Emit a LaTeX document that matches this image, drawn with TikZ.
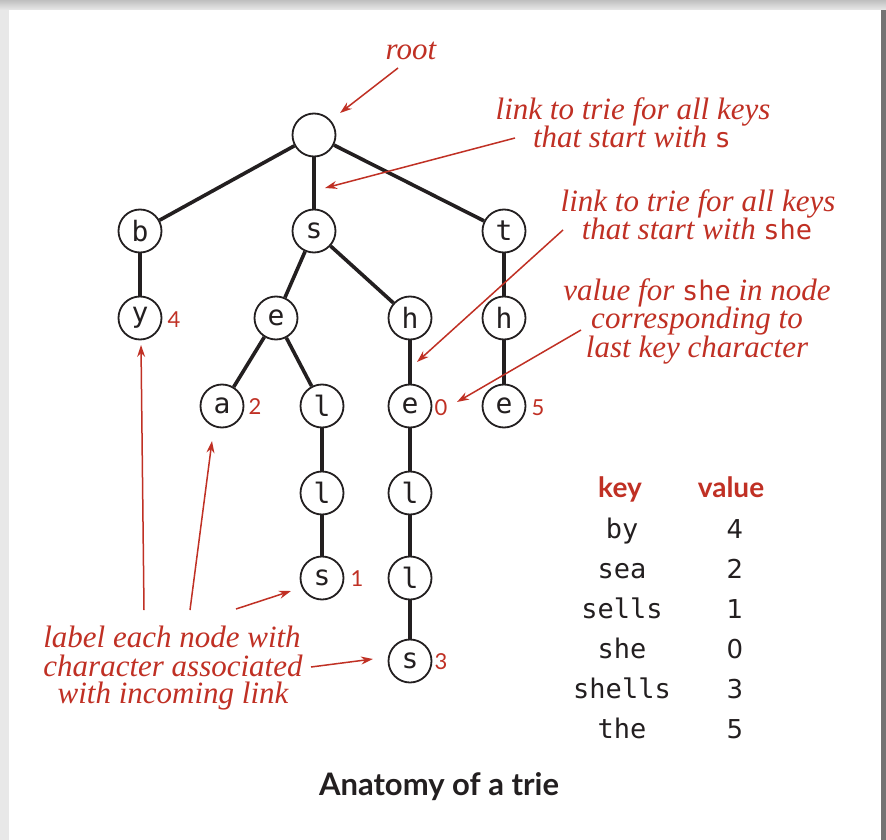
\documentclass[tikz,border=0pt]{standalone}
\usepackage{fontspec}
\setmainfont{Liberation Serif}
\newfontfamily\monof{DejaVu Sans Mono}
\newfontfamily\digitf{DejaVu Sans}
\newfontfamily\sansf{Lato}
\usetikzlibrary{arrows.meta}
\definecolor{annot}{RGB}{192,48,36}
\definecolor{ink}{RGB}{35,31,32}
\begin{document}
\begin{tikzpicture}[x=1pt,y=-1pt,
  trienode/.style={circle,draw=ink,line width=1.8pt,minimum size=43pt,inner sep=0pt,
    font=\monof\fontsize{28}{28}\selectfont,text=ink,fill=white},
  link/.style={draw=ink,line width=3.6pt},
  val/.style={text=annot,font=\sansf\fontsize{22}{22}\selectfont,inner sep=0pt},
  note/.style={text=annot,font=\itshape\fontsize{31}{28}\selectfont,inner sep=0pt,anchor=base},
  pointer/.style={draw=annot,line width=1.5pt,-{Stealth[length=12pt,width=8pt]}},
  keytxt/.style={font=\monof\fontsize{27}{27}\selectfont,text=ink,anchor=base,inner sep=0pt},
  valtxt/.style={font=\digitf\fontsize{26}{26}\selectfont,text=ink,anchor=base,inner sep=0pt},
  head/.style={font=\sansf\bfseries\fontsize{28}{28}\selectfont,text=annot,anchor=base,inner sep=0pt}
]
% page frame with its shadow
\fill[black!9] (0,0) rectangle (886,840);
\shade[top color=black!25,bottom color=black!9] (0,0) rectangle (886,10);
\fill[white] (9,10) rectangle (881,840);
\fill[black!55] (881,10) rectangle (886,840);
\useasboundingbox (0,0) rectangle (886,840);

% trie nodes
\node[trienode] (root) at (314,135) {};
\node[trienode] (b) at (140,231) {b};
\node[trienode] (s) at (314,231) {s};
\node[trienode] (t) at (504,231) {t};
\node[trienode] (by) at (140,318) {y};
\node[trienode] (se) at (276,318) {e};
\node[trienode] (sh) at (410,318) {h};
\node[trienode] (th) at (504,318) {h};
\node[trienode] (sea) at (222,406) {a};
\node[trienode] (sel) at (322,406) {l};
\node[trienode] (she) at (410,406) {e};
\node[trienode] (the) at (504,406) {e};
\node[trienode] (sell) at (322,493) {l};
\node[trienode] (shel) at (410,493) {l};
\node[trienode] (sells) at (322,578) {s};
\node[trienode] (shell) at (410,578) {l};
\node[trienode] (shells) at (410,661) {s};

% links
\draw[link] (root) -- (b);
\draw[link] (root) -- (s);
\draw[link] (root) -- (t);
\draw[link] (b) -- (by);
\draw[link] (s) -- (se);
\draw[link] (s) -- (sh);
\draw[link] (t) -- (th);
\draw[link] (se) -- (sea);
\draw[link] (se) -- (sel);
\draw[link] (sh) -- (she);
\draw[link] (th) -- (the);
\draw[link] (sel) -- (sell);
\draw[link] (she) -- (shel);
\draw[link] (sell) -- (sells);
\draw[link] (shel) -- (shell);
\draw[link] (shell) -- (shells);

% values stored in nodes
\node[val] (v4) at (174,320) {4};
\node[val] (v2) at (255,407) {2};
\node[val] (v1) at (357,579) {1};
\node[val] (v0) at (441,408) {0};
\node[val] (v5) at (538,408) {5};
\node[val] (v3) at (441,662) {3};

% annotations
\node[note] (rootnote) at (411,60) {root};
\node[note] (linkA1) at (633,120) {link to trie for all keys};
\node[note] (linkA2) at (632,148) {that start with {\monof\upshape\fontsize{27}{28}\selectfont s}};
\node[note] (linkB1) at (698,211) {link to trie for all keys};
\node[note] (linkB2) at (697,239) {that start with {\monof\upshape\fontsize{27}{28}\selectfont she}};
\node[note] (valnote1) at (697,300) {value for {\monof\upshape\fontsize{27}{28}\selectfont she} in node};
\node[note] (valnote2) at (697,328) {corresponding to};
\node[note] (valnote3) at (697,357) {last key character};
\node[note] (lab1) at (172,647) {label each node with};
\node[note] (lab2) at (173,676) {character associated};
\node[note] (lab3) at (173,703) {with incoming link};

% pointer ends
\coordinate (pRootA) at (398,68);  \coordinate (pRootB) at (340,113);
\coordinate (pSA) at (515,138);    \coordinate (pSB) at (325,188);
\coordinate (pSheA) at (563,230);  \coordinate (pSheB) at (417,362);
\coordinate (pValA) at (581,330);  \coordinate (pValB) at (457,402);
\coordinate (pL1A) at (144,610);   \coordinate (pL1B) at (141,345);
\coordinate (pL2A) at (190,610);   \coordinate (pL2B) at (212,441);
\coordinate (pL3A) at (236,609);   \coordinate (pL3B) at (291,591);
\coordinate (pL4A) at (311,667);   \coordinate (pL4B) at (373,659);
\draw[pointer] (pRootA) -- (pRootB);
\draw[pointer] (pSA) -- (pSB);
\draw[pointer] (pSheA) -- (pSheB);
\draw[pointer] (pValA) -- (pValB);
\draw[pointer] (pL1A) -- (pL1B);
\draw[pointer] (pL2A) -- (pL2B);
\draw[pointer] (pL3A) -- (pL3B);
\draw[pointer] (pL4A) -- (pL4B);

% key/value table
\node[head] (hkey) at (620,497) {key};
\node[head] (hval) at (731,497) {value};
\node[keytxt] (k1) at (622,538) {by};     \node[valtxt] (w1) at (735,538) {4};
\node[keytxt] (k2) at (622,578) {sea};    \node[valtxt] (w2) at (735,578) {2};
\node[keytxt] (k3) at (622,618) {sells};  \node[valtxt] (w3) at (735,618) {1};
\node[keytxt] (k4) at (622,658) {she};    \node[valtxt] (w4) at (735,658) {0};
\node[keytxt] (k5) at (622,698) {shells}; \node[valtxt] (w5) at (735,698) {3};
\node[keytxt] (k6) at (622,738) {the};    \node[valtxt] (w6) at (735,738) {5};

% caption
\node[font=\sansf\bfseries\fontsize{31}{31}\selectfont,text=ink,anchor=base,inner sep=0pt]
  (title) at (439,795) {Anatomy of a trie};
\end{tikzpicture}
\end{document}
